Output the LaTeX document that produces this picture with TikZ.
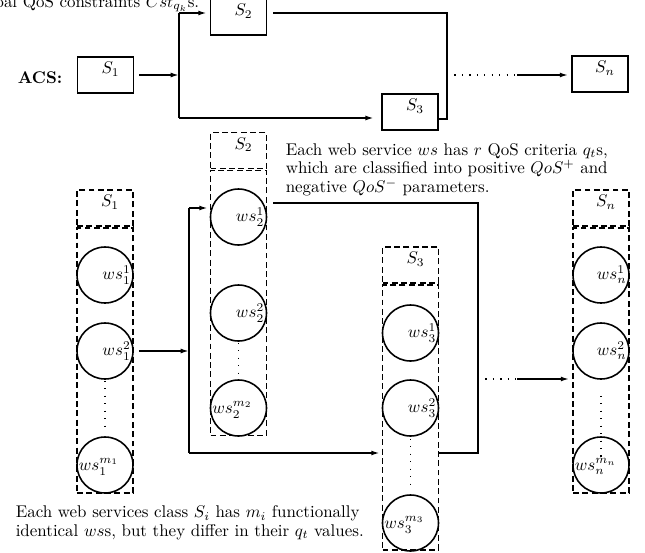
\documentclass[tikz,border=0pt]{standalone}
\usetikzlibrary{arrows.meta,calc}
\begin{document}
\begin{tikzpicture}[x=0.59pt,y=-0.59pt,
  font=\fontsize{10}{11}\selectfont,
  line width=0.93pt,
  box/.style={draw,minimum width=33.04pt,minimum height=21.24pt,inner sep=0pt,
    label={[xshift=2.95pt,yshift=3.5pt]center:#1}},
  hbox/.style={draw,dash pattern=on 3.5pt off 2pt,minimum width=33.04pt,minimum height=21.24pt,inner sep=0pt,
    label={[xshift=2.95pt,yshift=3.5pt]center:#1}},
  bbox/.style={draw,dash pattern=on 3.5pt off 2pt,minimum width=33.04pt,minimum height=156.35pt,inner sep=0pt},
  wsr/.style={draw,circle,minimum size=33.04pt,inner sep=0pt,
    label={[anchor=east,inner sep=1.4pt]east:#1}},
  wsl/.style={draw,circle,minimum size=33.04pt,inner sep=0pt,
    label={[anchor=west,inner sep=1.1pt,yshift=-0.9pt]west:#1}},
  arr/.style={-{Latex[length=4.9pt,width=2.9pt]}},
  dots/.style={line width=0.7pt,dash pattern=on 0.7pt off 3.7pt}
]
\useasboundingbox (0,0) rectangle (645,553);

% ---------- top: abstract composite service ----------
\node[anchor=base east,inner sep=0pt] (gq) at (200,7) {global QoS constraints $Cst_{q_k}$s.};
\node[anchor=base west,inner sep=0pt,font=\fontsize{10}{11}\selectfont\bfseries] (acs) at (17,83) {ACS:};

\node[box=$S_1$] (a1) at (105.5,75) {};
\node[box=$S_2$] (a2) at (238.5,17) {};
\node[box=$S_3$] (a3) at (410,112) {};
\node[box=$S_n$] (an) at (600,74) {};

\coordinate (j1) at (179,75);
\coordinate (j1t) at (179,13);
\coordinate (j1b) at (179,118);
\draw[arr,shorten <=2.95pt] (a1.east) -- (j1);
\draw (j1t) -- (j1b);
\draw[arr,shorten >=1.8pt] (j1t) -- (j1t-|a2.west);
\draw[arr,shorten >=4.4pt] (j1b) -- (j1b-|a3.west);

\coordinate (c2) at (447,13);
\coordinate (c3) at (447,119);
\draw[shorten <=3.5pt] (a2.east|-c2) -- (c2) -- (c3) -- (c3-|a3.east);

\coordinate (d1) at (447,75);
\coordinate (d2) at (517,75);
\draw[dots] (d1) -- (d2);
\draw[arr,shorten >=1.8pt] (d2) -- (d2-|an.west);

% ---------- bottom: concrete web services ----------
\node[hbox=$S_1$] (h1) at (105,208) {};
\node[bbox] (b1) at (105,360.5) {};
\node[hbox=$S_2$] (h2) at (238.5,150.5) {};
\node[bbox] (b2) at (238.5,303) {};
\node[hbox=$S_3$] (h3) at (410.5,265) {};
\node[bbox] (b3) at (410.5,417.5) {};
\node[hbox=$S_n$] (hn) at (601,208) {};
\node[bbox] (bn) at (601,360.5) {};

\node[wsr=$ws_1^1$] (w11) at (105,275) {};
\node[wsr=$ws_1^2$] (w12) at (105,351) {};
\node[wsl=$ws_1^{m_1}$] (w13) at (105,465) {};

\node[wsr=$ws_2^1$] (w21) at (238.5,217) {};
\node[wsr=$ws_2^2$] (w22) at (238.5,313) {};
\node[wsl=$ws_2^{m_2}$] (w23) at (238.5,408) {};

\node[wsr=$ws_3^1$] (w31) at (410.5,333) {};
\node[wsr=$ws_3^2$] (w32) at (410.5,408) {};
\node[wsl=$ws_3^{m_3}$] (w33) at (410.5,523) {};

\node[wsr=$ws_n^1$] (wn1) at (601,275) {};
\node[wsr=$ws_n^2$] (wn2) at (601,351) {};
\node[wsl=$ws_n^{m_n}$] (wn3) at (601,465) {};

\draw[dots] ($(w12.south)+(0,1)$) -- ($(w13.north)+(0,-4)$);
\draw[dots] ($(w22.south)+(0,1)$) -- ($(w23.north)+(0,-3)$);
\draw[dots] ($(w32.south)+(0,2)$) -- ($(w33.north)+(0,-5)$);
\draw[dots] ($(wn2.south)+(0,16)$) -- ($(wn3.north)+(0,21)$);

\coordinate (k1) at (189,351);
\coordinate (k1t) at (189,208);
\coordinate (k1b) at (189,453);
\draw[arr,shorten <=2.95pt] (w12.east) -- (k1);
\draw (k1t) -- (k1b);
\draw[arr,shorten >=1.2pt] (k1t) -- (k1t-|b2.west);
\draw[arr,shorten >=1.2pt] (k1b) -- (k1b-|b3.west);

\coordinate (k2t) at (478,203);
\coordinate (k2b) at (478,453);
\draw[shorten <=3.5pt] (b2.east|-k2t) -- (k2t) -- (k2b) -- (k2b-|b3.east);

\coordinate (k3) at (478,379);
\coordinate (k4) at (517,379);
\draw[dots] (k3) -- (k4);
\draw[arr,shorten >=1.8pt] (k4) -- (k4-|bn.west);

% ---------- texts ----------
\node[anchor=north west,inner sep=0pt,align=left] (t1) at (285,142.5)
  {Each web service $ws$ has $r$ QoS criteria $q_t$s,\\
   which are classified into positive $QoS^+$ and\\
   negative $QoS^-$ parameters.};
\node[anchor=north west,inner sep=0pt,align=left] (t2) at (15,505)
  {Each web services class $S_i$ has $m_i$ functionally\\
   identical $ws$s, but they differ in their $q_t$ values.};
\end{tikzpicture}
\end{document}
